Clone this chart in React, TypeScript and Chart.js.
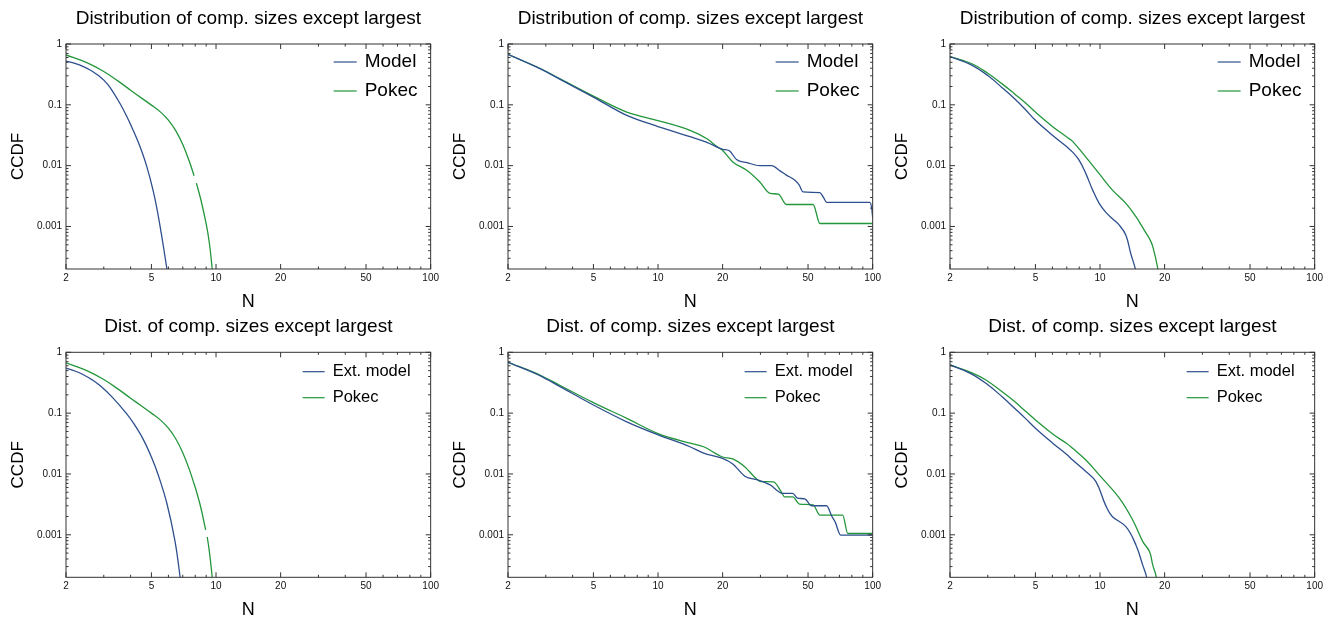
import React, { useEffect, useRef } from "react";
import { Chart, registerables } from "chart.js";

Chart.register(...registerables);

const FONT = "'Liberation Sans', Arial, Helvetica, sans-serif";
const BLUE = "#2d4f8e";
const GREEN = "#23963b";
const FRAME = "#333333";

const TITLE_TOP = "Distribution of comp. sizes except largest";
const TITLE_BOTTOM = "Dist. of comp. sizes except largest";
const X_LABEL = "N";
const Y_LABEL = "CCDF";

const X_MIN = 2;
const X_MAX = 100;
const Y_MIN = 0.0002;
const Y_MAX = 1;

const X_MAJOR = [2, 5, 10, 20, 50, 100];
const X_MINOR = [3, 4, 6, 7, 8, 9, 30, 40, 60, 70, 80, 90];
const Y_MAJOR = [1, 0.1, 0.01, 0.001];
const Y_MINOR = [
  0.9, 0.8, 0.7, 0.6, 0.5, 0.4, 0.3, 0.2,
  0.09, 0.08, 0.07, 0.06, 0.05, 0.04, 0.03, 0.02,
  0.009, 0.008, 0.007, 0.006, 0.005, 0.004, 0.003, 0.002,
  0.0009, 0.0008, 0.0007, 0.0006, 0.0005, 0.0004, 0.0003,
];

// Panel 1 (top-left)
const P1_MODEL_N = [2, 2.2, 2.41, 2.65, 2.88, 3.0, 3.2, 3.57, 3.85, 4.1, 4.4, 4.74, 5.1, 5.43, 5.88, 6.0, 6.1];
const P1_MODEL_CCDF = [0.525, 0.479, 0.424, 0.357, 0.289, 0.255, 0.195, 0.105, 0.063, 0.039, 0.0216, 0.0101, 0.0038, 0.00125, 0.00022, 0.00013, 0.00007];
const P1_POKEC_N = [2, 2.5, 3, 3.5, 4, 4.5, 5, 5.5, 6, 6.5, 7, 7.5, 7.9, 8.0, 8.1, 8.5, 9, 9.3, 9.55, 9.7];
const P1_POKEC_CCDF = [0.661, 0.494, 0.353, 0.245, 0.174, 0.129, 0.0989, 0.0766, 0.0561, 0.0372, 0.0222, 0.0119, 0.00684, null, 0.00516, 0.00275, 0.0011, 0.00055, 0.00024, 0.000126];

// Panel 2 (top-middle)
const P2_MODEL_N = [2, 2.83, 3.5, 5, 7.15, 10, 14.1, 17, 20, 21.5, 23.2, 26, 29.8, 33.8, 37, 39.6, 43.3, 45.5, 47.4, 56.8, 59, 61, 97, 99, 100];
const P2_MODEL_CCDF = [0.675, 0.39, 0.262, 0.134, 0.067, 0.044, 0.03, 0.024, 0.0186, 0.0176, 0.0126, 0.0112, 0.01, 0.01, 0.0082, 0.007, 0.0058, 0.0048, 0.0037, 0.0036, 0.003, 0.0025, 0.0025, 0.002, 0.0014];
const P2_POKEC_N = [2, 2.83, 3.5, 5, 7.15, 10, 14.1, 16.9, 19, 20, 22.3, 25.9, 29.8, 33.3, 36.4, 39.6, 52.8, 56.8, 100];
const P2_POKEC_CCDF = [0.675, 0.395, 0.267, 0.139, 0.076, 0.055, 0.038, 0.0277, 0.02, 0.0178, 0.0115, 0.0084, 0.0054, 0.0035, 0.0034, 0.0023, 0.0023, 0.00112, 0.00112];

// Panel 3 (top-right)
const P3_MODEL_N = [2, 2.5, 3, 3.5, 4, 4.5, 5, 6, 7, 7.45, 8, 8.59, 9.23, 9.91, 10.6, 11.4, 12.3, 13.2, 13.9, 14.6, 15.0];
const P3_MODEL_CCDF = [0.621, 0.458, 0.303, 0.191, 0.126, 0.0832, 0.0556, 0.0316, 0.0204, 0.0167, 0.0122, 0.0074, 0.004, 0.0024, 0.00174, 0.00135, 0.00105, 0.00072, 0.00036, 0.0002, 0.0001];
const P3_POKEC_N = [2, 2.5, 3, 3.5, 4, 4.5, 5, 6, 7, 7.45, 8.59, 9.91, 11.4, 13.2, 14.7, 16.2, 17.0, 17.6, 18.6, 19];
const P3_POKEC_CCDF = [0.621, 0.482, 0.331, 0.221, 0.151, 0.107, 0.0759, 0.0442, 0.0295, 0.0251, 0.0138, 0.0074, 0.004, 0.0024, 0.00145, 0.00083, 0.00063, 0.00047, 0.0002, 0.0001];

// Panel 4 (bottom-left)
const P4_MODEL_N = [2, 2.2, 2.41, 2.65, 2.88, 3.3, 3.83, 4.17, 4.58, 5.01, 5.38, 5.9, 6.43, 6.78, 7.0];
const P4_MODEL_CCDF = [0.55, 0.493, 0.428, 0.352, 0.284, 0.18, 0.098, 0.0645, 0.037, 0.0186, 0.0096, 0.0033, 0.00081, 0.00022, 0.00008];
const P4_POKEC_N = [2, 2.5, 3, 3.5, 4, 4.5, 5, 5.5, 6, 6.5, 7, 7.5, 7.9, 8.1, 8.5, 8.95, 9.02, 9.1, 9.3, 9.55, 9.7];
const P4_POKEC_CCDF = [0.67, 0.5, 0.357, 0.248, 0.176, 0.131, 0.1, 0.0775, 0.0565, 0.0375, 0.0224, 0.012, 0.0069, 0.0052, 0.00278, 0.0012, null, 0.00092, 0.00055, 0.00024, 0.000126];

// Panel 5 (bottom-middle)
const P5_MODEL_N = [2, 2.83, 3.5, 5, 7.15, 10, 14.1, 16.3, 20, 22.3, 25.5, 29.1, 33.3, 38, 42.4, 44.7, 48.3, 52, 61, 64.6, 67, 70.9, 100];
const P5_MODEL_CCDF = [0.685, 0.41, 0.272, 0.136, 0.072, 0.044, 0.028, 0.022, 0.018, 0.0146, 0.0091, 0.008, 0.0066, 0.0048, 0.0048, 0.004, 0.0039, 0.003, 0.003, 0.002, 0.0016, 0.00099, 0.00099];
const P5_POKEC_N = [2, 2.83, 3.5, 5, 7.15, 10, 14.1, 16.3, 20, 22.3, 25.5, 28, 30.1, 34.5, 37.5, 38.9, 42.4, 45.6, 52.8, 56.8, 72.5, 76.6, 100];
const P5_POKEC_CCDF = [0.685, 0.42, 0.285, 0.149, 0.082, 0.046, 0.032, 0.028, 0.019, 0.0177, 0.0129, 0.0091, 0.0075, 0.0074, 0.0051, 0.0042, 0.0042, 0.0032, 0.0031, 0.0021, 0.0021, 0.00105, 0.00105];

// Panel 6 (bottom-right)
const P6_MODEL_N = [2, 2.5, 2.94, 3.5, 4, 4.5, 5, 6, 7, 7.45, 8.59, 9.57, 10.6, 11.4, 13.2, 14.7, 15.8, 16.5, 17];
const P6_MODEL_CCDF = [0.62, 0.447, 0.309, 0.186, 0.12, 0.0813, 0.0564, 0.0324, 0.0209, 0.017, 0.011, 0.0075, 0.0031, 0.002, 0.00136, 0.00068, 0.00032, 0.0002, 0.0001];
const P6_POKEC_N = [2, 2.5, 2.94, 3.5, 4, 4.5, 5, 6, 7, 7.45, 8.59, 9.91, 12.3, 14.2, 15.8, 17.0, 17.6, 18.3, 18.7];
const P6_POKEC_CCDF = [0.62, 0.468, 0.351, 0.224, 0.155, 0.107, 0.0773, 0.0457, 0.0316, 0.0264, 0.017, 0.00964, 0.004, 0.00175, 0.00078, 0.00053, 0.00032, 0.0002, 0.0001];

const TOP_LEGEND = { size: 19, lineStart: 97, lineEnd: 74, textStart: 66, row1: 18, gap: 29 };
const BOTTOM_LEGEND = { size: 16.5, lineStart: 128, lineEnd: 106, textStart: 98, row1: 19.4, gap: 26 };

const TOP_ROW = { top: 0, height: 312, plotBottom: 269, titlePad: { top: 9, bottom: 16 }, nPad: 1, legend: TOP_LEGEND, title: TITLE_TOP, modelLabel: "Model" };
const BOTTOM_ROW = { top: 312, height: 307, plotBottom: 265.3, titlePad: { top: 5, bottom: 16.3 }, nPad: 0, legend: BOTTOM_LEGEND, title: TITLE_BOTTOM, modelLabel: "Ext. model" };

const PANELS = [
  { row: TOP_ROW, left: 0, steps: false, model: [P1_MODEL_N, P1_MODEL_CCDF], pokec: [P1_POKEC_N, P1_POKEC_CCDF] },
  { row: TOP_ROW, left: 442, steps: true, model: [P2_MODEL_N, P2_MODEL_CCDF], pokec: [P2_POKEC_N, P2_POKEC_CCDF] },
  { row: TOP_ROW, left: 884, steps: false, model: [P3_MODEL_N, P3_MODEL_CCDF], pokec: [P3_POKEC_N, P3_POKEC_CCDF] },
  { row: BOTTOM_ROW, left: 0, steps: false, model: [P4_MODEL_N, P4_MODEL_CCDF], pokec: [P4_POKEC_N, P4_POKEC_CCDF] },
  { row: BOTTOM_ROW, left: 442, steps: true, model: [P5_MODEL_N, P5_MODEL_CCDF], pokec: [P5_POKEC_N, P5_POKEC_CCDF] },
  { row: BOTTOM_ROW, left: 884, steps: false, model: [P6_MODEL_N, P6_MODEL_CCDF], pokec: [P6_POKEC_N, P6_POKEC_CCDF] },
];

const CANVAS_W = 442;
const Y_AXIS_W = 66;
const RIGHT_PAD = 11;

const zip = (xs: number[], ys: (number | null)[]) => xs.map((x, i) => ({ x, y: ys[i] }));

const framePlugin = {
  id: "frameLegend",
  afterDatasetsDraw(chart: any, _args: any, opts: any) {
    const { ctx, chartArea: a, scales } = chart;
    const xs = scales.x;
    const ys = scales.y;
    ctx.save();
    ctx.strokeStyle = FRAME;
    ctx.lineWidth = 1;
    ctx.strokeRect(a.left, a.top, a.right - a.left, a.bottom - a.top);
    ctx.beginPath();
    const xt = (v: number, len: number) => {
      const p = xs.getPixelForValue(v);
      ctx.moveTo(p, a.bottom);
      ctx.lineTo(p, a.bottom - len);
      ctx.moveTo(p, a.top);
      ctx.lineTo(p, a.top + len);
    };
    const yt = (v: number, len: number) => {
      const p = ys.getPixelForValue(v);
      ctx.moveTo(a.left, p);
      ctx.lineTo(a.left + len, p);
      ctx.moveTo(a.right, p);
      ctx.lineTo(a.right - len, p);
    };
    X_MAJOR.forEach((v) => xt(v, 5));
    X_MINOR.forEach((v) => xt(v, 2.5));
    Y_MAJOR.forEach((v) => yt(v, 5));
    Y_MINOR.forEach((v) => yt(v, 2.5));
    ctx.stroke();

    const lg = opts.legend;
    const items = [
      { label: opts.modelLabel, color: BLUE },
      { label: "Pokec", color: GREEN },
    ];
    ctx.font = `${lg.size}px ${FONT}`;
    ctx.textBaseline = "middle";
    ctx.textAlign = "left";
    items.forEach((it, i) => {
      const y = a.top + lg.row1 + i * lg.gap;
      ctx.strokeStyle = it.color;
      ctx.lineWidth = 1.2;
      ctx.beginPath();
      ctx.moveTo(a.right - lg.lineStart, y);
      ctx.lineTo(a.right - lg.lineEnd, y);
      ctx.stroke();
      ctx.fillStyle = "#000";
      ctx.fillText(it.label, a.right - lg.textStart, y);
    });
    ctx.restore();
  },
};

function Panel({ panel }: { panel: any }) {
  const ref = useRef<HTMLCanvasElement | null>(null);
  useEffect(() => {
    const row = panel.row;
    const lineStyle = panel.steps
      ? { cubicInterpolationMode: "monotone" }
      : { cubicInterpolationMode: "default", tension: 0.4 };
    const chart = new Chart(ref.current as HTMLCanvasElement, {
      type: "line",
      data: {
        datasets: [
          {
            label: row.modelLabel,
            data: zip(panel.model[0], panel.model[1]),
            borderColor: BLUE,
            borderWidth: 1.3,
            pointRadius: 0,
            spanGaps: false,
            ...lineStyle,
          },
          {
            label: "Pokec",
            data: zip(panel.pokec[0], panel.pokec[1]),
            borderColor: GREEN,
            borderWidth: 1.3,
            pointRadius: 0,
            spanGaps: false,
            ...lineStyle,
          },
        ] as any,
      },
      options: {
        animation: false,
        responsive: false,
        maintainAspectRatio: false,
        devicePixelRatio: 1,
        layout: { padding: { left: 0, right: RIGHT_PAD, top: 0, bottom: 0 } },
        events: [],
        elements: { line: { capBezierPoints: false } },
        plugins: {
          legend: { display: false },
          tooltip: { enabled: false },
          title: {
            display: true,
            text: row.title,
            fullSize: false,
            color: "#000",
            font: { family: FONT, size: 19, weight: "normal", lineHeight: 1 },
            padding: row.titlePad,
          },
          frameLegend: { legend: row.legend, modelLabel: row.modelLabel },
        } as any,
        scales: {
          x: {
            type: "logarithmic",
            min: X_MIN,
            max: X_MAX,
            grid: { display: false, drawTicks: false },
            border: { display: false },
            afterBuildTicks: (s: any) => {
              s.ticks = X_MAJOR.map((v) => ({ value: v }));
            },
            afterFit: (s: any) => {
              s.height = row.height - row.plotBottom;
            },
            ticks: {
              autoSkip: false,
              maxRotation: 0,
              padding: 3,
              color: "#111",
              font: { family: FONT, size: 10 },
              callback: (v: any) => String(v),
            },
            title: {
              display: true,
              text: X_LABEL,
              color: "#000",
              font: { family: FONT, size: 18, lineHeight: 1 },
              padding: { top: 0, bottom: row.nPad },
            },
          },
          y: {
            type: "logarithmic",
            min: Y_MIN,
            max: Y_MAX,
            grid: { display: false, drawTicks: false },
            border: { display: false },
            afterBuildTicks: (s: any) => {
              s.ticks = Y_MAJOR.map((v) => ({ value: v }));
            },
            afterFit: (s: any) => {
              s.width = Y_AXIS_W;
            },
            ticks: {
              autoSkip: false,
              padding: 4,
              color: "#111",
              font: { family: FONT, size: 10 },
              callback: (v: any) => String(v),
            },
            title: {
              display: true,
              text: Y_LABEL,
              color: "#000",
              font: { family: FONT, size: 17, lineHeight: 1 },
              padding: { top: 9.5, bottom: 0 },
            },
          },
        },
      },
      plugins: [framePlugin as any],
    });
    return () => chart.destroy();
  }, [panel]);
  const row = panel.row;
  return (
    <canvas
      ref={ref}
      width={CANVAS_W}
      height={row.height}
      style={{ position: "absolute", left: panel.left, top: row.top, width: CANVAS_W, height: row.height }}
    />
  );
}

export default function App() {
  return (
    <div style={{ position: "absolute", left: 0, top: 0, width: 1336, height: 619, background: "#fff", overflow: "hidden" }}>
      {PANELS.map((p, i) => (
        <Panel key={i} panel={p} />
      ))}
    </div>
  );
}
